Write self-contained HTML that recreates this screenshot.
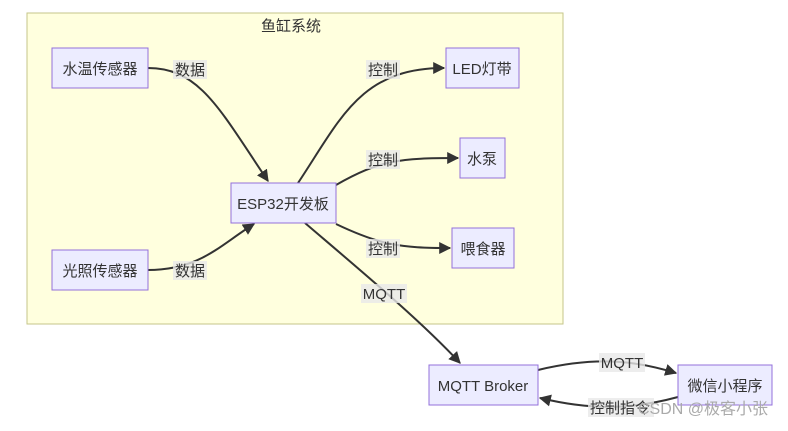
<!DOCTYPE html>
<html><head><meta charset="utf-8"><style>
body{margin:0;background:#fff;width:788px;height:426px;overflow:hidden}
text{font-family:"Liberation Sans","Noto Sans CJK SC",sans-serif;font-size:15px;fill:#333}
.n{fill:#ECECFF;stroke:#9370DB;stroke-width:1}
.e{fill:none;stroke:#333;stroke-width:2}
.lb{fill:#e8e8e8;opacity:0.8}
</style></head><body>
<svg width="788" height="426" viewBox="0 0 788 426">
<defs><marker id="a" viewBox="0 0 10 10" refX="9" refY="5" markerWidth="6" markerHeight="6" orient="auto"><path d="M0,0L10,5L0,10z" fill="#333"/></marker></defs>
<rect x="27" y="13" width="536" height="311" fill="#ffffde" stroke="#c6c68a"/>
<text x="291" y="31" text-anchor="middle">鱼缸系统</text>
<path class="e" marker-end="url(#a)" d="M148,68 C200,68 220,110 268,181"/>
<path class="e" marker-end="url(#a)" d="M148,270 C200,270 220,245 254,224"/>
<path class="e" marker-end="url(#a)" d="M298,183 C340,120 360,68 444,68"/>
<path class="e" marker-end="url(#a)" d="M336,185 C380,160 400,158 458,158"/>
<path class="e" marker-end="url(#a)" d="M336,224 C380,245 400,248 450,248"/>
<path class="e" marker-end="url(#a)" d="M305,223 C360,270 420,320 460,363"/>
<path class="e" marker-end="url(#a)" d="M538,370 C600,355 640,362 676,373"/>
<path class="e" marker-end="url(#a)" d="M678,397 C630,410 590,410 540,398"/>
<rect class="lb" x="173" y="60" width="34" height="19"/><text x="190" y="75" text-anchor="middle">数据</text>
<rect class="lb" x="173" y="261" width="34" height="19"/><text x="190" y="276" text-anchor="middle">数据</text>
<rect class="lb" x="366" y="60" width="34" height="19"/><text x="383" y="75" text-anchor="middle">控制</text>
<rect class="lb" x="366" y="150" width="34" height="19"/><text x="383" y="165" text-anchor="middle">控制</text>
<rect class="lb" x="366" y="239" width="34" height="19"/><text x="383" y="254" text-anchor="middle">控制</text>
<rect class="lb" x="361" y="284" width="46" height="19"/><text x="384" y="299" text-anchor="middle">MQTT</text>
<rect class="lb" x="599" y="353" width="46" height="19"/><text x="622" y="368" text-anchor="middle">MQTT</text>
<rect class="lb" x="588" y="398" width="66" height="19"/><text x="620" y="413" text-anchor="middle">控制指令</text>
<rect class="n" x="52" y="48" width="96" height="40"/><text x="100" y="74" text-anchor="middle">水温传感器</text>
<rect class="n" x="52" y="250" width="96" height="40"/><text x="100" y="276" text-anchor="middle">光照传感器</text>
<rect class="n" x="231" y="183" width="105" height="40"/><text x="283" y="209" text-anchor="middle">ESP32开发板</text>
<rect class="n" x="446" y="48" width="73" height="40"/><text x="482" y="74" text-anchor="middle">LED灯带</text>
<rect class="n" x="460" y="138" width="45" height="40"/><text x="482" y="164" text-anchor="middle">水泵</text>
<rect class="n" x="452" y="228" width="62" height="40"/><text x="483" y="254" text-anchor="middle">喂食器</text>
<rect class="n" x="429" y="365" width="109" height="40"/><text x="483" y="391" text-anchor="middle">MQTT Broker</text>
<rect class="n" x="678" y="365" width="94" height="40"/><text x="725" y="391" text-anchor="middle">微信小程序</text>
<text x="638" y="414" style="fill:#aaa;font-size:16px">CSDN @极客小张</text>
</svg>
</body></html>
